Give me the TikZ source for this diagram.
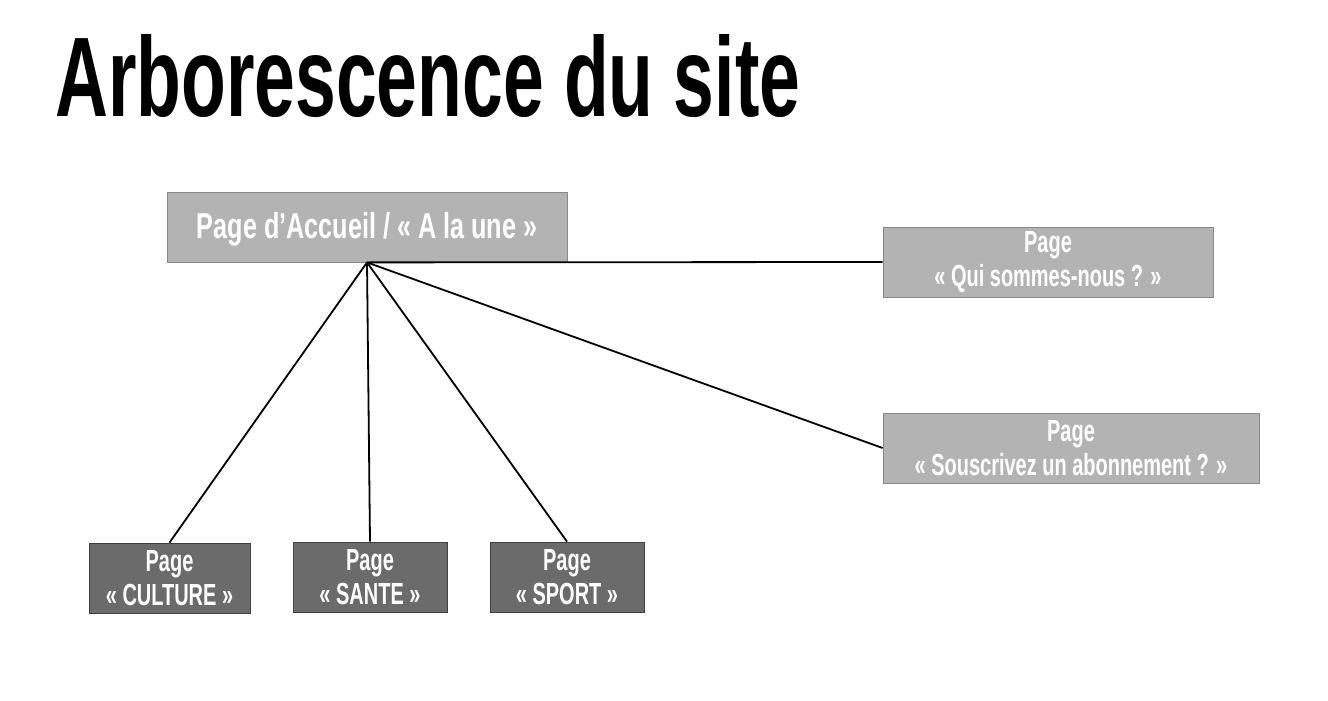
\documentclass[tikz,border=0pt]{standalone}
\usepackage{graphicx}
\usepackage{fontspec}
\setmainfont{Liberation Sans}
\newfontfamily\agency{Liberation Sans}[FakeStretch=0.655]
\newfontfamily\agencywide{Liberation Sans}[FakeStretch=0.70]
\definecolor{lightfill}{RGB}{179,179,179}
\definecolor{lightedge}{RGB}{137,137,137}
\definecolor{darkfill}{RGB}{107,107,107}
\definecolor{darkedge}{RGB}{64,64,64}
\begin{document}
\begin{tikzpicture}[x=1pt,y=1pt,
  pagebox/.style={rectangle, inner sep=0pt, minimum height=70pt, text=white, align=center,
    font=\agency\bfseries\fontsize{30.5pt}{34pt}\selectfont, line width=0.8pt},
  lightbox/.style={pagebox, fill=lightfill, draw=lightedge},
  darkbox/.style={pagebox, fill=darkfill, draw=darkedge},
  link/.style={draw=black, line width=1.8pt}]
\useasboundingbox (0,0) rectangle (1328,-701);
\fill[white] (0,0) rectangle (1328,-701);
\node[anchor=base west, inner sep=0pt] (title) at (55,-116)
  {\resizebox{745pt}{82pt}{\bfseries Arborescence du site}};
\node[lightbox, minimum width=400pt, text depth=4pt,
  font=\agencywide\bfseries\fontsize{36pt}{40pt}\selectfont] (root) at (367,-227)
  {Page d’Accueil / « A la une »};
\node[lightbox, minimum width=330pt] (qui) at (1048,-262)
  {Page\\« Qui sommes-nous ? »};
\node[lightbox, minimum width=376pt] (sousc) at (1071,-448)
  {Page\\« Souscrivez un abonnement ? »};
\node[darkbox, minimum width=161pt] (culture) at (169.5,-578)
  {Page\\« CULTURE »};
\node[darkbox, minimum width=154pt] (sante) at (370,-577)
  {Page\\« SANTE »};
\node[darkbox, minimum width=154pt] (sport) at (567,-577)
  {Page\\« SPORT »};
\draw[link] (root.south) -- (qui.west);
\draw[link] (root.south) -- (sousc.west);
\draw[link] (root.south) -- (culture.north);
\draw[link] (root.south) -- (sante.north);
\draw[link] (root.south) -- (sport.north);
\end{tikzpicture}
\end{document}
